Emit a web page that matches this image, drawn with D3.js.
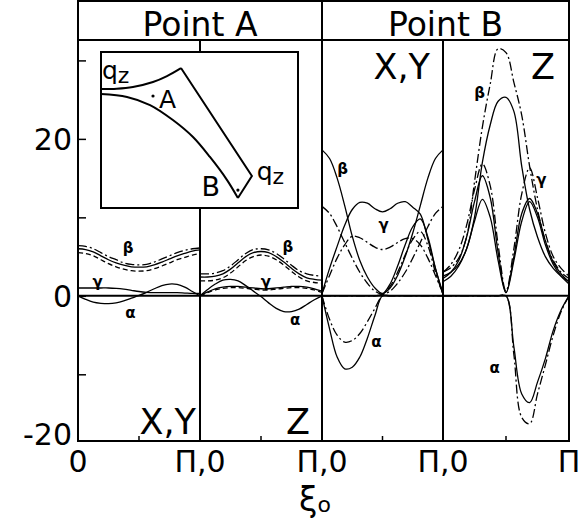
<!DOCTYPE html>
<html>
<head>
<meta charset="utf-8">
<script src="https://cdn.jsdelivr.net/npm/d3@7"></script>
<style>
  body { margin: 0; background: #fff; }
  svg text { font-family: "DejaVu Sans", sans-serif; fill: #000; }
</style>
</head>
<body>
<svg id="chart" width="587" height="529"></svg>
<script>
const svg = d3.select('svg#chart');

// sample positions inside each panel, in units of pi (0 .. 1)
const xi = [0, .0625, .125, .1875, .25, .3125, .375, .4375, .5,
            .5625, .625, .6875, .75, .8125, .875, .9375, 1];

// panels: 0 = Point A X,Y ; 1 = Point A Z ; 2 = Point B X,Y ; 3 = Point B Z
const headers = ['Point A', 'Point B'];
const panelNames = ['X,Y', 'Z', 'X,Y', 'Z'];
const xTickLabels = ['0', 'Π,0', 'Π,0', 'Π,0', 'Π'];
const yTickLabels = ['-20', '0', '20'];

// Point A, X,Y
const a1BetaDD  = [6.4, 6.3, 6.0, 5.5, 5.0, 4.6, 4.2, 4.0, 3.95, 4.0, 4.3, 4.7, 5.1, 5.5, 5.8, 6.0, 6.1];
const a1BetaS   = [6.0, 5.9, 5.6, 5.1, 4.6, 4.2, 3.9, 3.7, 3.65, 3.7, 3.95, 4.3, 4.7, 5.1, 5.4, 5.7, 5.85];
const a1BetaD   = [5.5, 5.4, 5.1, 4.6, 4.1, 3.7, 3.4, 3.2, 3.15, 3.2, 3.45, 3.8, 4.2, 4.6, 4.9, 5.2, 5.4];
const a1Gamma   = [1.0, 1.0, 1.0, 1.0, 1.0, 0.95, 0.85, 0.7, 0.55, 0.45, 0.4, 0.4, 0.4, 0.4, 0.35, 0.3, 0.3];
const a1Alpha   = [0, -0.45, -0.8, -0.95, -1.0, -0.9, -0.65, -0.3, 0.05, 0.45, 0.9, 1.3, 1.5, 1.45, 1.1, 0.55, 0];

// Point A, Z
const a2BetaDD  = [2.8, 2.8, 2.9, 3.2, 3.8, 4.6, 5.4, 5.9, 6.0, 5.85, 5.4, 4.7, 3.9, 3.2, 2.8, 2.6, 2.5];
const a2BetaS   = [2.4, 2.4, 2.5, 2.8, 3.4, 4.2, 5.0, 5.5, 5.65, 5.5, 5.0, 4.3, 3.5, 2.8, 2.3, 2.1, 2.0];
const a2BetaD   = [1.9, 1.9, 2.0, 2.3, 2.9, 3.7, 4.5, 5.0, 5.2, 5.05, 4.6, 3.9, 3.1, 2.4, 1.9, 1.7, 1.6];
const a2GammaS  = [0, 0.5, 0.9, 1.1, 1.2, 1.2, 1.1, 1.0, 0.9, 0.9, 1.0, 1.1, 1.2, 1.2, 1.1, 0.9, 0.6];
const a2GammaD  = [0, 0.4, 0.75, 0.95, 1.05, 1.05, 0.95, 0.85, 0.75, 0.75, 0.85, 0.95, 1.05, 1.05, 0.95, 0.75, 0.45];
const a2Alpha   = [0, 0.8, 1.5, 2.0, 2.1, 1.9, 1.3, 0.6, -0.1, -0.9, -1.6, -2.0, -2.0, -1.7, -1.1, -0.5, 0];

// Point B, X,Y
const b1BetaS   = [18.6, 17.5, 15.0, 11.5, 7.6, 4.5, 2.4, 1.0, 0.3, 1.0, 2.6, 5.0, 8.0, 11.5, 15.0, 17.5, 18.6];
const b1BetaDD  = [11.4, 10.5, 8.8, 6.8, 4.8, 3.0, 1.6, 0.6, 0.2, 0.6, 1.6, 3.0, 4.8, 6.8, 8.8, 10.5, 11.4];
const b1GammaS  = [0.3, 3.5, 6.3, 9.0, 11.0, 11.9, 11.8, 11.1, 10.7, 11.1, 11.8, 12.0, 11.3, 10.4, 7.2, 3.5, 0.3];
const b1GammaDD = [0.3, 2.6, 4.8, 6.5, 7.6, 7.4, 6.8, 6.2, 5.9, 6.2, 6.8, 7.3, 7.3, 6.5, 4.8, 2.6, 0.3];
const b1DeltaS  = [0, 0, 0, 0, 0, 0, 0, 0, 0.2, 1.5, 3.8, 6.5, 8.8, 9.8, 7.5, 3.5, 0.2];
const b1DeltaDD = [0, 0, 0, 0, 0, 0, 0, 0, 0.2, 1.2, 3.0, 5.2, 7.2, 8.2, 6.4, 3.0, 0.2];
const b1AlphaS  = [0, -4.2, -7.8, -9.3, -9.1, -7.8, -5.4, -2.5, 0, 0, 0, 0, 0, 0, 0, 0, 0];
const b1AlphaDD = [0, -3.0, -5.0, -5.9, -5.7, -4.8, -3.3, -1.6, 0, 0, 0, 0, 0, 0, 0, 0, 0];

// Point B, Z
const b2BetaDD  = [3.0, 3.6, 4.8, 7.5, 14.5, 21.5, 27.0, 31.5, 31.0, 27.2, 23.0, 16.5, 11.0, 7.0, 4.5, 3.0, 2.2];
const b2BetaS   = [2.5, 3.0, 4.0, 6.0, 10.0, 17.0, 21.8, 24.8, 25.3, 23.5, 16.5, 11.0, 7.5, 5.0, 3.5, 2.5, 1.8];
const b2GammaDD = [3.0, 4.0, 5.8, 9.0, 13.5, 16.8, 14.0, 6.5, 0.6, 6.0, 13.0, 16.3, 12.5, 8.0, 5.0, 3.5, 2.5];
const b2GammaS  = [2.2, 3.0, 4.5, 7.5, 12.0, 15.3, 12.5, 5.5, 0.4, 5.0, 10.5, 12.4, 10.5, 7.0, 4.3, 2.8, 1.8];
const b2EpsS    = [1.8, 2.5, 3.8, 6.0, 9.5, 12.3, 10.0, 4.5, 0.4, 4.5, 9.5, 12.0, 10.0, 6.5, 4.0, 2.5, 1.5];
const b2AlphaS  = [0, 0, 0, 0, 0, 0, 0, 0, 0, -6.5, -12.5, -13.6, -11.0, -8.0, -4.4, -1.8, 0];
const b2AlphaDD = [0, 0, 0, 0, 0, 0, 0, 0, 0, -7.5, -15.5, -16.3, -12.5, -8.8, -5.0, -2.0, 0];

const series = [
  [0, 'dd', a1BetaDD], [0, 's', a1BetaS], [0, 'd', a1BetaD], [0, 's', a1Gamma], [0, 's', a1Alpha],
  [1, 'dd', a2BetaDD], [1, 's', a2BetaS], [1, 'd', a2BetaD], [1, 's', a2GammaS], [1, 'd', a2GammaD], [1, 's', a2Alpha],
  [2, 's', b1BetaS], [2, 'dd', b1BetaDD], [2, 's', b1GammaS], [2, 'dd', b1GammaDD],
  [2, 's', b1DeltaS], [2, 'dd', b1DeltaDD], [2, 's', b1AlphaS], [2, 'dd', b1AlphaDD],
  [3, 'dd', b2BetaDD], [3, 's', b2BetaS], [3, 'dd', b2GammaDD], [3, 's', b2GammaS],
  [3, 's', b2EpsS], [3, 's', b2AlphaS], [3, 'dd', b2AlphaDD]
];

// curve labels: panel, position (pi), value
const greekLabels = [
  [0, .41, 6.1, 'β'], [0, .16, 1.8, 'γ'], [0, .43, -2.2, 'α'],
  [1, .72, 6.2, 'β'], [1, .54, 1.8, 'γ'], [1, .78, -3.1, 'α'],
  [2, .17, 16.2, 'β'], [2, .51, 9.0, 'γ'], [2, .45, -5.9, 'α'],
  [3, .29, 25.9, 'β'], [3, .78, 14.8, 'γ'], [3, .41, -9.2, 'α']
];

// inset (Brillouin zone sketch), in unit coordinates of the inset box
const insetUpper = [[0, .237], [.08, .235], [.162, .224], [.264, .192], [.335, .154], [.406, .103]];
const insetLower = [[0, .269], [.132, .288], [.249, .340], [.365, .436], [.467, .545],
                    [.553, .673], [.640, .821], [.695, .936]];
const insetEdge  = [[.406, .103], [.766, .795], [.695, .936]];
const insetDots  = [[.264, .282], [.695, .885]];

const margin = { top: 1, right: 18, bottom: 88, left: 78 };
const width = +svg.attr('width');
const height = +svg.attr('height');
const headerH = 39;
const plotTop = margin.top + headerH;
const plotBottom = height - margin.bottom;
const right = width - margin.right;

const x = d3.scaleLinear()
  .domain([0, 1, 2, 3, 4])
  .range([margin.left, 200, 322, 443, right]);

const y = d3.scaleLinear()
  .domain([-18.5, 32.6])
  .range([plotBottom, plotTop]);

const dashes = { s: null, d: '5,3', dd: '9,3,2,3' };

// curves
const line = d3.line()
  .curve(d3.curveCatmullRom.alpha(0.5));

svg.append('g')
  .selectAll('path')
  .data(series)
  .join('path')
    .attr('d', ([p, , vals]) => line(vals.map((v, i) => [x(p + xi[i]), y(v)])))
    .attr('fill', 'none')
    .attr('stroke', '#000')
    .attr('stroke-width', 1.3)
    .attr('stroke-dasharray', d => dashes[d[1]]);

// zero line
svg.append('line')
  .attr('x1', x(0)).attr('x2', x(4))
  .attr('y1', y(0)).attr('y2', y(0))
  .attr('stroke', '#000').attr('stroke-width', 2);

// frame, header, dividers
const frame = svg.append('g')
  .attr('fill', 'none')
  .attr('stroke', '#000')
  .attr('stroke-width', 2);
frame.append('rect')
  .attr('x', x(0)).attr('y', margin.top)
  .attr('width', x(4) - x(0)).attr('height', plotBottom - margin.top);
frame.append('line')
  .attr('x1', x(0)).attr('x2', x(4))
  .attr('y1', plotTop).attr('y2', plotTop);
frame.selectAll('.divider')
  .data([1, 2, 3])
  .join('line')
    .attr('class', 'divider')
    .attr('x1', d => x(d)).attr('x2', d => x(d))
    .attr('y1', d => d === 2 ? margin.top : plotTop)
    .attr('y2', plotBottom);

// bottom ticks at pi/2
frame.selectAll('.xtick')
  .data([0.5, 1.5, 2.5, 3.5])
  .join('line')
    .attr('class', 'xtick')
    .attr('stroke-width', 1.5)
    .attr('x1', d => x(d)).attr('x2', d => x(d))
    .attr('y1', plotBottom).attr('y2', plotBottom - 5);

// left axis ticks (inward)
const yAxis = d3.axisLeft(y)
  .tickValues([-10, 0, 10, 20, 30])
  .tickSize(-8)
  .tickFormat('');
svg.append('g')
  .attr('transform', `translate(${x(0)},0)`)
  .call(yAxis)
  .call(g => g.select('.domain').remove())
  .call(g => g.selectAll('line').attr('stroke-width', 1.5));

// y labels
svg.selectAll('.ylabel')
  .data(yTickLabels)
  .join('text')
    .attr('class', 'ylabel')
    .attr('x', x(0) - 6)
    .attr('y', d => d === '-20' ? plotBottom + 4 : y(+d))
    .attr('dy', d => d === '-20' ? 0 : '0.36em')
    .attr('text-anchor', 'end')
    .attr('font-size', 30)
    .text(d => d);

// x labels
svg.selectAll('.xlabel')
  .data(xTickLabels)
  .join('text')
    .attr('class', 'xlabel')
    .attr('x', (d, i) => x(i))
    .attr('y', plotBottom + 31)
    .attr('text-anchor', 'middle')
    .attr('font-size', 30)
    .text(d => d);

// axis title
const xt = svg.append('text')
  .attr('x', 299)
  .attr('y', 511)
  .attr('font-size', 33)
  .text('ξ');
xt.append('tspan')
  .attr('font-size', 22)
  .attr('dy', 1)
  .text('o');

// headers
svg.selectAll('.header')
  .data(headers)
  .join('text')
    .attr('class', 'header')
    .attr('x', (d, i) => (x(2 * i) + x(2 * i + 2)) / 2)
    .attr('y', margin.top + 35)
    .attr('text-anchor', 'middle')
    .attr('font-size', 33)
    .text(d => d);

// panel names
const namePos = [[4, 'bottom'], [12, 'bottom'], [13, 'top'], [14, 'top']];
svg.selectAll('.pname')
  .data(panelNames)
  .join('text')
    .attr('class', 'pname')
    .attr('x', (d, i) => x(i + 1) - namePos[i][0])
    .attr('y', (d, i) => namePos[i][1] === 'bottom' ? plotBottom - 7 : plotTop + 39)
    .attr('text-anchor', 'end')
    .attr('font-size', 35)
    .text(d => d);

// greek curve labels
svg.selectAll('.greek')
  .data(greekLabels)
  .join('text')
    .attr('class', 'greek')
    .attr('x', d => x(d[0] + d[1]))
    .attr('y', d => y(d[2]))
    .attr('dy', '0.35em')
    .attr('text-anchor', 'middle')
    .attr('font-size', 15)
    .attr('font-weight', 'bold')
    .text(d => d[3]);

// inset
const ix = d3.scaleLinear().domain([0, 1]).range([101, 298]);
const iy = d3.scaleLinear().domain([0, 1]).range([52, 208]);
const inset = svg.append('g');
inset.append('rect')
  .attr('x', ix(0)).attr('y', iy(0))
  .attr('width', ix(1) - ix(0)).attr('height', iy(1) - iy(0))
  .attr('fill', '#fff')
  .attr('stroke', '#000')
  .attr('stroke-width', 2);

const iline = d3.line()
  .x(d => ix(d[0])).y(d => iy(d[1]))
  .curve(d3.curveCatmullRom.alpha(0.5));
const iline2 = d3.line()
  .x(d => ix(d[0])).y(d => iy(d[1]));

inset.selectAll('.ipath')
  .data([[insetUpper, iline], [insetLower, iline], [insetEdge, iline2]])
  .join('path')
    .attr('class', 'ipath')
    .attr('d', d => d[1](d[0]))
    .attr('fill', 'none')
    .attr('stroke', '#000')
    .attr('stroke-width', 2);

inset.selectAll('circle')
  .data(insetDots)
  .join('circle')
    .attr('cx', d => ix(d[0]))
    .attr('cy', d => iy(d[1]))
    .attr('r', 1.6)
    .attr('fill', '#000');

const qz = (px, py) => {
  const t = inset.append('text')
    .attr('x', px).attr('y', py)
    .attr('font-size', 25)
    .text('q');
  t.append('tspan')
    .attr('dy', 4)
    .attr('font-size', 22)
    .text('z');
};
qz(ix(0.005), iy(0.17));
qz(ix(0.79), iy(0.82));

inset.append('text')
  .attr('x', ix(0.295)).attr('y', iy(0.36))
  .attr('font-size', 25)
  .text('A');
inset.append('text')
  .attr('x', ix(0.51)).attr('y', iy(0.92))
  .attr('font-size', 27)
  .text('B');
</script>
</body>
</html>
